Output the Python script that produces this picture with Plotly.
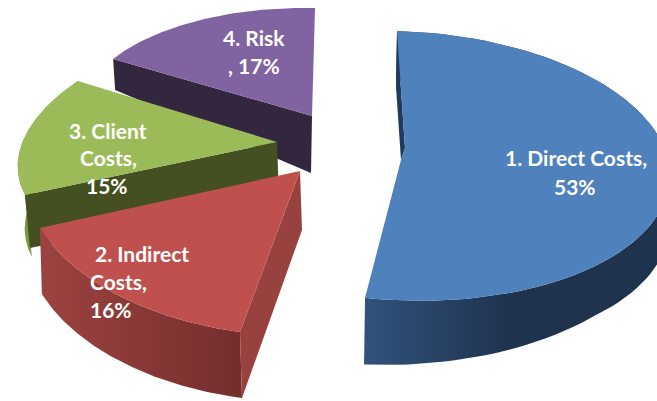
import numpy as np
import plotly.graph_objects as go

categories = ["1. Direct Costs", "2. Indirect Costs", "3. Client Costs", "4. Risk"]
values = [53, 16, 15, 17]
label_lines = [["1. Direct Costs,", "53%"], ["2. Indirect", "Costs,", "16%"],
               ["3. Client", "Costs,", "15%"], ["4. Risk", ", 17%"]]

# pseudo-3D view of each exploded slice: ellipse centre, axes, top apex, depth
VIEW = [
    dict(c=(401.8, 165.8), u=(268, 7.2), v=(4.8, 134.8), top=[(401, 160), (405, 148)], d=(-1, 60)),
    dict(c=(300, 171), u=(277.1, 11), v=(-17.3, 164.7), top=[(300, 171)], d=(2, 66)),
    dict(c=(277, 142), u=(255, -1.4), v=(-47.2, 126.8), top=[(277, 142)], d=(7, 62)),
    dict(c=(312, 116), u=(230, 4.6), v=(-3, 108), top=[(312, 116)], d=(2, 31)),
]
TOP = ["#4f81bd", "#c0504d", "#9bbb59", "#8064a2"]
LABEL_POS = [[(576, 157), (575, 186)], [(142, 253), (118, 281), (111, 309)],
             [(108, 130), (108, 157), (107, 185)], [(254, 37), (254, 65)]]

fig = go.Figure()
total = sum(values)
edges = np.cumsum([0] + values) / total * 2 * np.pi


def rim(i, depth=False):
    view = VIEW[i]
    th = np.linspace(edges[i], edges[i + 1], 80)
    x = view["c"][0] + view["u"][0] * np.sin(th) - view["v"][0] * np.cos(th)
    y = view["c"][1] + view["u"][1] * np.sin(th) - view["v"][1] * np.cos(th)
    if depth:
        if i == 0:
            dy = 50 + np.clip(np.degrees(th) - 135, 0, None) * 0.31
        else:
            dy = view["d"][1]
        x = x + view["d"][0]
        y = y + dy
    return x, y


def poly(xs, ys, color=None, grad=None):
    kw = dict(x=list(xs) + [xs[0]], y=list(ys) + [ys[0]], mode="lines", fill="toself",
              line=dict(width=0), hoverinfo="skip", showlegend=False)
    if grad:
        kw["fillgradient"] = dict(type="horizontal", colorscale=grad)
    else:
        kw["fillcolor"] = color
    fig.add_trace(go.Scatter(**kw))


def slice_parts(i, side_grad=None, walls=()):
    x, y = rim(i)
    if side_grad:
        bx, by = rim(i, True)
        poly(list(x) + list(bx[::-1]), list(y) + list(by[::-1]), grad=side_grad)
    for w, col in walls:
        poly([p[0] for p in w], [p[1] for p in w], col)
    tx = list(x) + [p[0] for p in VIEW[i]["top"]]
    ty = list(y) + [p[1] for p in VIEW[i]["top"]]
    poly(tx, ty, TOP[i])


def corner(i, end, depth=False):
    x, y = rim(i, depth)
    return (x[end], y[end])


# Risk
a = VIEW[3]["top"][0]
slice_parts(3, walls=[([a, corner(3, 0), corner(3, 0, True), (a[0] - 1, a[1] + 57)], "#33273f")])
# Client
a = VIEW[2]["top"][0]
c0 = corner(2, 0)
slice_parts(2, side_grad=[[0, "#7b9a3d"], [1, "#7b9a3d"]],
            walls=[([a, c0, (c0[0] + 5, c0[1] + 53), (a[0] + 2, a[1] + 56)], "#444f22")])
# Indirect
a = VIEW[1]["top"][0]
slice_parts(1, side_grad=[[0, "#9c4341"], [1, "#752e2c"]],
            walls=[([a, (a[0] + 2, a[1] + 59), corner(1, 0, True), corner(1, 0)], "#984240")])
# Direct
a = VIEW[0]
slice_parts(0, side_grad=[[0, "#30527c"], [0.48, "#1f334f"], [1, "#1f334f"]],
            walls=[([corner(0, 0), (396, 87), (401, 160), (405, 148)], "#1f3a5c")])

for lines, pos in zip(label_lines, LABEL_POS):
    for text, (px, py) in zip(lines, pos):
        fig.add_annotation(x=px, y=py, text=f"<b>{text}</b>", showarrow=False,
                           font=dict(family="Lato", size=21, color="white"))

fig.update_layout(width=657, height=401, margin=dict(l=0, r=0, t=0, b=0),
                  paper_bgcolor="white", plot_bgcolor="white", showlegend=False,
                  xaxis=dict(range=[0, 657], visible=False),
                  yaxis=dict(range=[401, 0], visible=False))
fig.write_html("out.html", config={"displayModeBar": False},
               post_script="document.body.style.margin='0';document.body.style.overflow='hidden';")
